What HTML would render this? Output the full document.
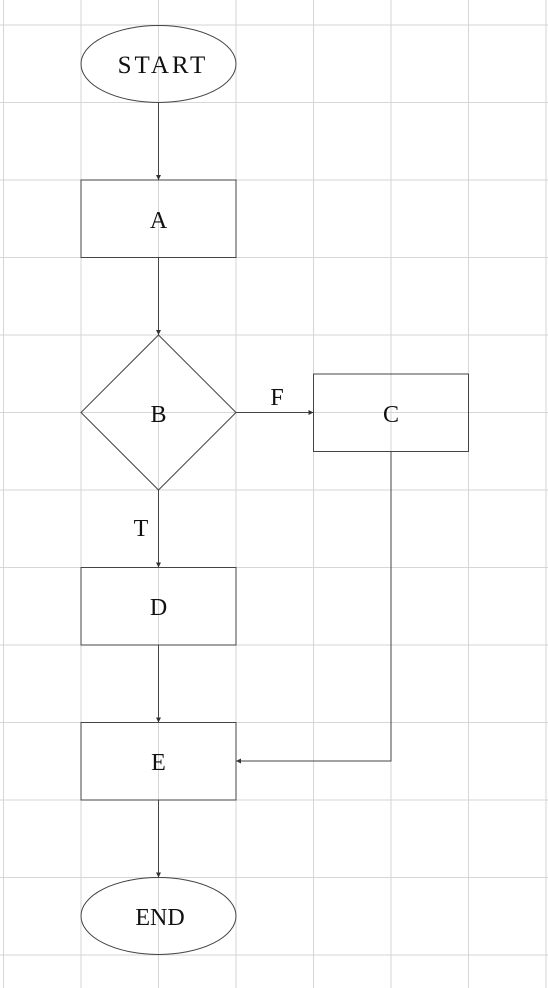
<!DOCTYPE html>
<html><head><meta charset="utf-8"><style>body{margin:0;background:#fff}svg{display:block}text{font-family:"Liberation Serif",serif;font-size:23px;fill:#111}</style></head>
<body>
<svg width="548" height="988">
<defs><marker id="ah" markerWidth="6" markerHeight="6" refX="5" refY="3" orient="auto"><path d="M0,0.5 L5,3 L0,5.5 z" fill="#333"/></marker></defs>
<g id="grid" stroke="#d6d6d6" stroke-width="1"></g>
<g stroke="#444" stroke-width="1" fill="none">
<ellipse cx="158.5" cy="64" rx="77.5" ry="38.5"/>
<rect x="81" y="180" width="155" height="77.5"/>
<polygon points="158.5,335 236,412.5 158.5,490 81,412.5"/>
<rect x="313.5" y="374" width="155" height="77.5"/>
<rect x="81" y="567.5" width="155" height="77.5"/>
<rect x="81" y="722.5" width="155" height="77.5"/>
<ellipse cx="158.5" cy="916" rx="77.5" ry="38.5"/>
<g marker-end="url(#ah)">
<line x1="158.5" y1="102.5" x2="158.5" y2="180"/>
<line x1="158.5" y1="257.5" x2="158.5" y2="335"/>
<line x1="236" y1="412.5" x2="313.5" y2="412.5"/>
<line x1="158.5" y1="490" x2="158.5" y2="567.5"/>
<line x1="158.5" y1="645" x2="158.5" y2="722.5"/>
<polyline points="391,451.5 391,761 236,761"/>
<line x1="158.5" y1="800" x2="158.5" y2="877.5"/>
</g></g>
<g text-anchor="middle">
<text x="163" y="73" style="font-size:25px;letter-spacing:3px">START</text>
<text x="158.5" y="228" style="font-size:24px">A</text>
<text x="158.5" y="422" style="font-size:24px">B</text>
<text x="391" y="422" style="font-size:24px">C</text>
<text x="158.5" y="615" style="font-size:24px">D</text>
<text x="158.5" y="770" style="font-size:24px">E</text>
<text x="160" y="925" style="font-size:24px">END</text>
<text x="277" y="405" style="font-size:24px">F</text>
<text x="141" y="536" style="font-size:24px">T</text>
</g>
</svg>
<script>
const g=document.getElementById('grid');
for(let k=0;k<8;k++){const x=3.5+77.5*k;const l=document.createElementNS('http://www.w3.org/2000/svg','line');


l.setAttribute('x1',x);l.setAttribute('x2',x);l.setAttribute('y1',0);l.setAttribute('y2',988);g.appendChild(l);}
for(let k=0;k<13;k++){const y=25+77.5*k;const l=document.createElementNS('http://www.w3.org/2000/svg','line');


l.setAttribute('y1',y);l.setAttribute('y2',y);l.setAttribute('x1',0);l.setAttribute('x2',548);g.appendChild(l);}
</script>
</body></html>
